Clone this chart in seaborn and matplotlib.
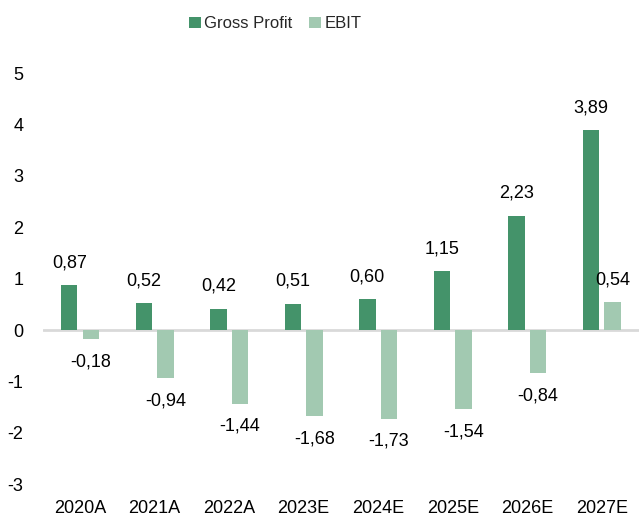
import matplotlib
matplotlib.use("Agg")
import matplotlib.pyplot as plt
import seaborn as sns
import pandas as pd
from matplotlib import font_manager

categories = ["2020A", "2021A", "2022A", "2023E", "2024E", "2025E", "2026E", "2027E"]
gross_profit = [0.87, 0.52, 0.42, 0.51, 0.60, 1.15, 2.23, 3.89]
ebit = [-0.18, -0.94, -1.44, -1.68, -1.73, -1.54, -0.84, 0.54]
series_names = ["Gross Profit", "EBIT"]
colors = ["#44936A", "#A2C9B1"]
yticks = [-3, -2, -1, 0, 1, 2, 3, 4, 5]

sns.set_theme(style="white")
avail = {f.name for f in font_manager.fontManager.ttflist}
fam = "Liberation Sans Narrow" if "Liberation Sans Narrow" in avail else "Liberation Sans"
plt.rcParams["font.family"] = [fam, "DejaVu Sans"]

df = pd.DataFrame({
    "cat": categories * 2,
    "val": gross_profit + ebit,
    "series": [series_names[0]] * len(categories) + [series_names[1]] * len(categories),
})

fig = plt.figure(figsize=(6.39, 5.19), dpi=100)
ax = fig.add_axes([0.067, 0.067, 0.933, 0.792])
sns.barplot(data=df, x="cat", y="val", hue="series", palette=colors,
            saturation=1, width=0.58, gap=0.24, linewidth=0, edgecolor="none",
            ax=ax, legend=True)

ax.set_ylim(-3, 5)
ax.set_xlim(-0.5, 7.5)
ax.set_yticks(yticks)
ax.set_yticklabels([str(t) for t in yticks])
ax.set_xlabel("")
ax.set_ylabel("")
for s in ax.spines.values():
    s.set_visible(False)
ax.tick_params(axis="both", length=0, labelsize=13, colors="#000000")
ax.tick_params(axis="y", pad=14)
ax.tick_params(axis="x", pad=11)
ax.axhline(0, color="#D9D9D9", lw=2, zorder=0.5)

for cont in ax.containers:
    labels = [f"{v:.2f}".replace(".", ",") for v in cont.datavalues]
    ax.bar_label(cont, labels=labels, padding=10, fontsize=13, color="#000000")

handles, labs = ax.get_legend_handles_labels()
ax.legend(handles, labs, loc="center", bbox_to_anchor=(0.39, 1.12), ncol=2,
          frameon=False, fontsize=12, handlelength=0.7, handleheight=0.7,
          handletextpad=0.2, columnspacing=1.0)

fig.savefig("out.png", dpi=100)
